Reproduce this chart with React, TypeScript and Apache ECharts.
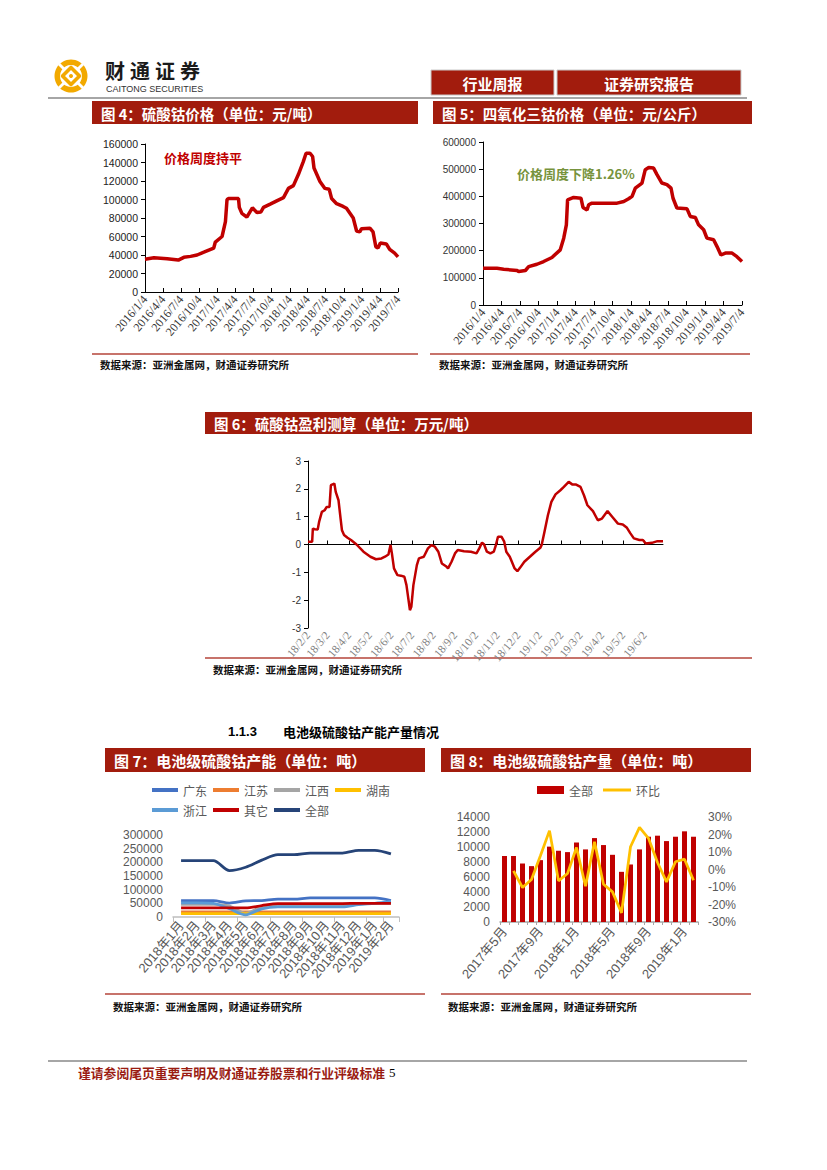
import React, { useEffect, useRef } from "react";
import * as echarts from "echarts";

// ---------------- data ----------------
const priceTickLabels = [
  "2016/1/4", "2016/4/4", "2016/7/4", "2016/10/4", "2017/1/4", "2017/4/4", "2017/7/4", "2017/10/4",
  "2018/1/4", "2018/4/4", "2018/7/4", "2018/10/4", "2019/1/4", "2019/4/4", "2019/7/4",
];

// 图4 硫酸钴价格（元/吨）
const sulfateDates = [
  "2016-01-04", "2016-02-18", "2016-04-25", "2016-06-20", "2016-07-18", "2016-08-21", "2016-09-23", "2016-10-27", "2016-12-16", "2016-12-24",
  "2017-01-27", "2017-02-13", "2017-02-21", "2017-03-01", "2017-04-20", "2017-04-24", "2017-05-07", "2017-06-01", "2017-06-29", "2017-07-22", "2017-08-11", "2017-08-24", "2017-09-27", "2017-10-30", "2017-12-03", "2017-12-28",
  "2018-01-22", "2018-02-16", "2018-03-13", "2018-03-27", "2018-04-16", "2018-04-29", "2018-05-06", "2018-06-05", "2018-06-30", "2018-07-22", "2018-08-03", "2018-08-28", "2018-09-30", "2018-10-17", "2018-11-20", "2018-12-07", "2018-12-23",
  "2019-01-01", "2019-02-12", "2019-02-28", "2019-03-14", "2019-03-25", "2019-04-06", "2019-05-06", "2019-05-23", "2019-06-17", "2019-07-04",
];
const sulfatePrice = [
  35500, 37000, 36000, 34500, 37500, 38500, 40000, 43000, 47500, 54000,
  60000, 76000, 100000, 101000, 101000, 91500, 85000, 81000, 91000, 86000, 86500, 91500, 95000, 98500, 102000, 112000,
  115000, 127000, 141000, 150000, 150000, 146500, 134000, 119500, 112000, 111000, 101000, 95500, 92500, 90500, 80000, 66000, 65000,
  68500, 69000, 65000, 49000, 47500, 53000, 52000, 46000, 42000, 38000,
];

// 图5 四氧化三钴价格
const oxideDates = [
  "2016-01-04", "2016-03-13", "2016-04-15", "2016-06-20", "2016-06-28", "2016-07-31", "2016-08-16", "2016-09-26", "2016-10-29", "2016-12-09",
  "2017-01-19", "2017-02-05", "2017-02-18", "2017-02-24", "2017-03-26", "2017-05-01", "2017-05-11", "2017-05-31", "2017-06-08", "2017-06-24", "2017-07-19", "2017-10-26", "2017-11-28", "2017-12-22",
  "2018-01-08", "2018-01-24", "2018-02-26", "2018-03-14", "2018-03-31", "2018-04-24", "2018-05-11", "2018-06-04", "2018-06-29", "2018-07-19", "2018-07-29", "2018-08-17", "2018-10-06", "2018-10-22", "2018-11-16", "2018-12-02", "2018-12-27",
  "2019-01-12", "2019-02-14", "2019-03-03", "2019-03-22", "2019-04-13", "2019-05-16", "2019-06-09", "2019-07-04",
];
const oxidePrice = [
  135000, 135000, 131500, 127000, 123000, 127000, 141000, 150000, 160000, 175000,
  203000, 246000, 295000, 387000, 396000, 393000, 359000, 350000, 369000, 375000, 375000, 375000, 381000, 391000,
  400000, 430000, 449000, 498000, 506000, 504000, 480000, 449000, 443000, 430000, 393000, 357000, 354000, 326000, 322000, 295000, 277000,
  246000, 240000, 215000, 184000, 191000, 191000, 178000, 160000,
];

// 图6 硫酸钴盈利测算（万元/吨）
const profitTickLabels = [
  "18/2/2", "18/3/2", "18/4/2", "18/5/2", "18/6/2", "18/7/2", "18/8/2", "18/9/2", "18/10/2",
  "18/11/2", "18/12/2", "19/1/2", "19/2/2", "19/3/2", "19/4/2", "19/5/2", "19/6/2",
];
const profitDates = [
  "2018-02-02", "2018-02-08", "2018-02-09", "2018-02-12", "2018-02-16", "2018-02-18", "2018-02-22", "2018-02-26",
  "2018-03-01", "2018-03-05", "2018-03-07", "2018-03-12", "2018-03-14", "2018-03-18", "2018-03-21", "2018-03-23", "2018-03-26", "2018-03-31",
  "2018-04-05", "2018-04-13", "2018-04-23",
  "2018-05-03", "2018-05-11", "2018-05-19", "2018-05-24", "2018-05-29",
  "2018-06-01", "2018-06-03", "2018-06-06", "2018-06-11", "2018-06-16", "2018-06-21", "2018-06-24", "2018-06-29",
  "2018-07-01", "2018-07-04", "2018-07-09", "2018-07-12", "2018-07-19", "2018-07-25", "2018-07-30",
  "2018-08-04", "2018-08-09", "2018-08-14", "2018-08-20", "2018-08-23", "2018-08-28",
  "2018-09-02", "2018-09-06", "2018-09-15", "2018-09-25",
  "2018-10-03", "2018-10-07", "2018-10-11", "2018-10-14", "2018-10-18", "2018-10-23", "2018-10-28", "2018-10-31",
  "2018-11-03", "2018-11-08", "2018-11-12", "2018-11-15", "2018-11-20", "2018-11-23", "2018-11-27",
  "2018-12-01", "2018-12-05", "2018-12-11", "2018-12-19", "2018-12-27",
  "2019-01-03", "2019-01-05", "2019-01-09", "2019-01-14", "2019-01-19", "2019-01-25",
  "2019-02-01", "2019-02-06", "2019-02-13", "2019-02-18", "2019-02-23",
  "2019-03-02", "2019-03-07", "2019-03-12", "2019-03-20", "2019-03-27",
  "2019-04-02", "2019-04-10", "2019-04-17", "2019-04-25",
  "2019-05-02", "2019-05-08", "2019-05-13", "2019-05-18", "2019-05-26", "2019-05-31",
  "2019-06-04", "2019-06-13", "2019-06-21", "2019-06-29",
];
const profitValues = [
  0.1, 0.1, 0.57, 0.55, 0.54, 0.81, 1.17, 1.23,
  1.35, 1.35, 2.13, 2.19, 1.89, 1.59, 0.93, 0.51, 0.34, 0.24,
  0.16, 0, -0.26,
  -0.44, -0.53, -0.5, -0.44, -0.36,
  -0.02, -0.32, -0.86, -1.1, -1.12, -1.16, -1.46, -2.36,
  -2.24, -1.46, -0.74, -0.5, -0.44, -0.14, -0.02,
  -0.08, -0.26, -0.68, -0.78, -0.86, -0.62,
  -0.32, -0.2, -0.24, -0.26,
  -0.32, -0.14, 0.07, 0, -0.26, -0.32, -0.26, -0.02,
  0.28, 0.28, 0.1, -0.26, -0.44, -0.62, -0.86,
  -0.96, -0.83, -0.62, -0.44, -0.26,
  -0.12, -0.02, 0.45, 1.05, 1.53, 1.8,
  1.95, 2.07, 2.25, 2.16, 2.16,
  2.07, 1.77, 1.41, 1.2, 0.87,
  0.93, 1.2, 0.99, 0.75,
  0.72, 0.6, 0.4, 0.22, 0.16, 0.16,
  0.04, 0.06, 0.12, 0.12,
];

// 图7 电池级硫酸钴产能（吨）
const capacityMonths = [
  "2018年1月", "2018年2月", "2018年3月", "2018年4月", "2018年5月", "2018年6月", "2018年7月",
  "2018年8月", "2018年9月", "2018年10月", "2018年11月", "2018年12月", "2019年1月", "2019年2月",
];
const capGuangdong = [60000, 60000, 60000, 51000, 59000, 60000, 65000, 65000, 70000, 70000, 70000, 70000, 70000, 60000];
const capJiangsu = [19000, 19000, 19000, 19000, 19000, 19000, 19000, 19000, 19000, 19000, 19000, 19000, 19000, 19000];
const capJiangxi = [46000, 46000, 46000, 40000, 14000, 38000, 45000, 45000, 45000, 45000, 45000, 48000, 50000, 50000];
const capHunan = [12000, 12000, 12000, 12000, 12000, 12000, 12000, 12000, 12000, 12000, 12000, 12000, 12000, 12000];
const capZhejiang = [52000, 52000, 50000, 30000, 8000, 30000, 37000, 37000, 37000, 37000, 37000, 45000, 50000, 57000];
const capOther = [33000, 33000, 33000, 33000, 33000, 42000, 49000, 49000, 49000, 49000, 49000, 50000, 50000, 50000];
const capTotal = [206000, 206000, 206000, 170000, 182000, 208000, 228000, 228000, 234000, 234000, 234000, 244000, 244000, 231000];

// 图8 电池级硫酸钴产量（吨）
const outputMonths = [
  "2017年5月", "2017年6月", "2017年7月", "2017年8月", "2017年9月", "2017年10月", "2017年11月", "2017年12月",
  "2018年1月", "2018年2月", "2018年3月", "2018年4月", "2018年5月", "2018年6月", "2018年7月", "2018年8月",
  "2018年9月", "2018年10月", "2018年11月", "2018年12月", "2019年1月", "2019年2月",
];
const outputTotal = [8800, 8800, 7800, 7450, 8250, 10050, 9500, 9320, 10600, 9680, 11190, 10260, 8960, 6690, 7670, 9680, 11370, 11510, 10790, 11370, 12090, 11370];
const outputMoM = [null, -0.8, -10.3, -5.7, 8, 22.2, -6.5, -2.3, 12.6, -9.6, 15.9, -8.4, -12.8, -24.8, 13, 24.1, 17.8, 4, -7.1, 4.4, 5.9, -6.1];

// ---------------- styles ----------------
const TITLE_RED = "#a21c0d";
const LINE_RED = "#c00000";
const SRC_LINE = "#b5443a";
const GOLD = "#f2a900";
const CJK = '"Noto Sans CJK SC", sans-serif';
const SANS = '"Liberation Sans", Arial, sans-serif';
const SERIF = '"Liberation Serif", "Times New Roman", serif';
const MIXED = '"Liberation Sans", "Noto Sans CJK SC", sans-serif';
const GREY_TXT = "#595959";
const plain = (v: number) => String(v);

function ts(s: string): number {
  const p = s.split(/[-/]/).map(Number);
  let y = p[0];
  if (y < 100) y += 2000;
  return new Date(y, p[1] - 1, p[2]).getTime();
}
const fmtFull = (v: number) => {
  const d = new Date(v);
  return `${d.getFullYear()}/${d.getMonth() + 1}/${d.getDate()}`;
};
const fmtShort = (v: number) => {
  const d = new Date(v);
  return `${String(d.getFullYear()).slice(2)}/${d.getMonth() + 1}/${d.getDate()}`;
};

function txt(x: number, y: number, text: string, o: any = {}) {
  const align = o.align || "left";
  return {
    type: "text",
    x,
    y,
    style: {
      text,
      fill: o.fill || "#000",
      fontSize: o.fontSize || 12,
      fontWeight: o.fontWeight || "normal",
      fontFamily: o.fontFamily || CJK,
      align,
      textAlign: align,
      verticalAlign: "middle",
      textVerticalAlign: "middle",
    },
  };
}
function titleBar(x: number, y: number, w: number, h: number, label: string, fs: number) {
  return [
    { type: "rect", shape: { x, y, width: w, height: h }, style: { fill: TITLE_RED } },
    txt(x + 9, y + h / 2 + 0.5, label, { fill: "#fff", fontSize: fs, fontWeight: "bold" }),
  ];
}
function source(x1: number, x2: number, yLine: number, tx: number, ty: number) {
  return [
    { type: "line", shape: { x1, y1: yLine, x2, y2: yLine }, style: { stroke: SRC_LINE, lineWidth: 1.5 } },
    txt(tx, ty, "数据来源：亚洲金属网，财通证券研究所", { fontSize: 10.5, fontWeight: "bold", fill: "#111" }),
  ];
}

function buildOption(): any {
  const priceTicks = priceTickLabels.map(ts);
  const profitTicks = profitTickLabels.map(ts);
  const cx = 71, cy = 76;
  const d45 = 17 * Math.SQRT1_2;

  const graphics: any[] = [
    // logo
    { type: "ring", shape: { cx, cy, r: 16.5, r0: 11 }, style: { fill: GOLD } },
    { type: "line", shape: { x1: cx - d45, y1: cy - d45, x2: cx + d45, y2: cy + d45 }, style: { stroke: "#fff", lineWidth: 2.8 } },
    { type: "line", shape: { x1: cx - d45, y1: cy + d45, x2: cx + d45, y2: cy - d45 }, style: { stroke: "#fff", lineWidth: 2.8 } },
    { type: "polygon", shape: { points: [[cx, cy - 8.5], [cx + 8.5, cy], [cx, cy + 8.5], [cx - 8.5, cy]] }, style: { fill: "#fff", stroke: GOLD, lineWidth: 3.6, lineJoin: "round" } },
    { type: "circle", shape: { cx, cy, r: 2 }, style: { fill: GOLD } },
    ...["财", "通", "证", "券"].map((c, i) => txt(105 + i * 25, 70, c, { fontSize: 20, fontWeight: "bold", fill: "#1a1a1a" })),
    txt(106, 88.5, "CAITONG SECURITIES", { fontSize: 9, fontFamily: SANS, fill: "#333" }),
    // header boxes
    { type: "rect", shape: { x: 431, y: 70, width: 123, height: 25 }, style: { fill: TITLE_RED, stroke: "#c9c9c9", lineWidth: 1 } },
    txt(492.5, 83, "行业周报", { fontSize: 15, fontWeight: "bold", fill: "#fff", align: "center" }),
    { type: "rect", shape: { x: 557, y: 70, width: 184, height: 25 }, style: { fill: TITLE_RED, stroke: "#c9c9c9", lineWidth: 1 } },
    txt(649, 83, "证券研究报告", { fontSize: 15, fontWeight: "bold", fill: "#fff", align: "center" }),
    { type: "line", shape: { x1: 48, y1: 98, x2: 747, y2: 98 }, style: { stroke: "#a6a6a6", lineWidth: 2 } },
    // title bars
    ...titleBar(92, 101, 326, 23, "图 4：硫酸钴价格（单位：元/吨）", 14.5),
    ...titleBar(433, 101, 319, 23, "图 5：四氧化三钴价格（单位：元/公斤）", 14.5),
    ...titleBar(205, 412, 547, 22, "图 6：硫酸钴盈利测算（单位：万元/吨）", 14.5),
    ...titleBar(105, 748, 320, 24, "图 7：电池级硫酸钴产能（单位：吨）", 15),
    ...titleBar(441, 748, 310, 24, "图 8：电池级硫酸钴产量（单位：吨）", 15),
    // annotations
    txt(164, 157, "价格周度持平", { fontSize: 13, fontWeight: "bold", fill: LINE_RED }),
    txt(517, 173, "价格周度下降1.26%", { fontSize: 13, fontWeight: "bold", fill: "#77933c" }),
    // sources
    ...source(92, 418, 354, 100, 364),
    ...source(430, 750, 354, 439, 364),
    ...source(205, 752, 658, 213, 669),
    ...source(105, 425, 994, 113, 1006),
    ...source(441, 751, 994, 448, 1006),
    // section heading
    txt(228, 731, "1.1.3", { fontSize: 13, fontWeight: "bold", fontFamily: SANS }),
    txt(283, 731, "电池级硫酸钴产能产量情况", { fontSize: 13, fontWeight: "bold" }),
    // footer
    { type: "line", shape: { x1: 48, y1: 1061, x2: 747, y2: 1061 }, style: { stroke: "#a6a6a6", lineWidth: 2 } },
    txt(78, 1072, "谨请参阅尾页重要声明及财通证券股票和行业评级标准", { fontSize: 12.8, fontWeight: "bold", fill: "#9a1c12" }),
    txt(389, 1072, "5", { fontSize: 13, fontFamily: SERIF, fill: "#000" }),
  ];

  // date axes are drawn as value axes on timestamps, ticks placed on the original tick dates
  const dateAxisBase = (gridIndex: number, ticks: number[], fmt: (v: number) => string, color: string, fs: number) => ({
    type: "value",
    gridIndex,
    min: ticks[0],
    max: ticks[ticks.length - 1],
    axisLine: { show: true, onZero: true, lineStyle: { color: "#000", width: 1 } },
    axisTick: { show: true, inside: true, length: 4, customValues: ticks, lineStyle: { color: "#000" } },
    axisLabel: { customValues: ticks, rotate: 50, margin: 5, formatter: fmt, fontSize: fs, fontFamily: SERIF, color },
    splitLine: { show: false },
  });

  const valueAxisBase = (gridIndex: number, min: number, max: number, interval: number, fs: number, color: string) => ({
    type: "value",
    gridIndex,
    min,
    max,
    interval,
    axisLine: { show: true, lineStyle: { color: "#000", width: 1 } },
    axisTick: { show: true, length: 4, lineStyle: { color: "#000" } },
    axisLabel: { fontSize: fs, fontFamily: SANS, color, margin: 7, formatter: plain },
    splitLine: { show: false },
  });

  const lineSeries = (name: string, data: number[], color: string) => ({
    name,
    type: "line",
    xAxisIndex: 3,
    yAxisIndex: 3,
    data,
    symbol: "none",
    smooth: 0.3,
    lineStyle: { color, width: 2.75 },
    itemStyle: { color },
  });

  const legendText = { fontSize: 12, fontFamily: CJK, color: GREY_TXT };

  return {
    animation: false,
    backgroundColor: "#fff",
    graphic: { elements: graphics },
    legend: [
      { data: ["广东", "江苏", "江西", "湖南"], left: 152, top: 784, padding: 0, icon: "rect", itemWidth: 26, itemHeight: 4, itemGap: 6, textStyle: legendText, selectedMode: false },
      { data: ["浙江", "其它", "全部"], left: 152, top: 804, padding: 0, icon: "rect", itemWidth: 26, itemHeight: 4, itemGap: 6, textStyle: legendText, selectedMode: false },
      { data: [{ name: "全部", icon: "rect", itemStyle: { color: LINE_RED } }], left: 537, top: 784, padding: 0, icon: "rect", itemWidth: 27, itemHeight: 8, textStyle: legendText, selectedMode: false },
      { data: [{ name: "环比", icon: "rect" }], left: 603, top: 784, padding: 0, icon: "rect", itemWidth: 28, itemHeight: 3, textStyle: legendText, selectedMode: false },
    ],
    grid: [
      { left: 145, top: 144, width: 253, height: 148 },
      { left: 483, top: 142, width: 259, height: 163 },
      { left: 308, top: 461, width: 355, height: 167 },
      { left: 173, top: 835, width: 226, height: 82 },
      { left: 500, top: 817, width: 198, height: 105 },
    ],
    xAxis: [
      dateAxisBase(0, priceTicks, fmtFull, "#333", 12),
      dateAxisBase(1, priceTicks, fmtFull, "#333", 12),
      { ...dateAxisBase(2, profitTicks, fmtShort, "#7f7f7f", 11.5), max: ts(profitDates[profitDates.length - 1]) },
      {
        type: "category",
        gridIndex: 3,
        data: capacityMonths,
        boundaryGap: true,
        axisLine: { show: true, lineStyle: { color: "#bfbfbf", width: 1.5 } },
        axisTick: { show: true, interval: 1, length: 5, lineStyle: { color: "#bfbfbf" } },
        axisLabel: { interval: 0, rotate: 50, margin: 6, fontSize: 13, fontFamily: MIXED, color: GREY_TXT },
        splitLine: { show: false },
      },
      {
        type: "category",
        gridIndex: 4,
        data: outputMonths,
        boundaryGap: true,
        axisLine: { show: true, lineStyle: { color: "#a6a6a6", width: 1.5 } },
        axisTick: { show: true, interval: 0, length: 3, lineStyle: { color: "#a6a6a6" } },
        axisLabel: { interval: 3, rotate: 50, margin: 7, fontSize: 13, fontFamily: MIXED, color: GREY_TXT },
        splitLine: { show: false },
      },
    ],
    yAxis: [
      valueAxisBase(0, 0, 160000, 20000, 10.5, "#222"),
      valueAxisBase(1, 0, 600000, 100000, 10, "#333"),
      valueAxisBase(2, -3, 3, 1, 10, "#333"),
      {
        type: "value",
        gridIndex: 3,
        min: 0,
        max: 300000,
        interval: 50000,
        axisLine: { show: false },
        axisTick: { show: false },
        axisLabel: { fontSize: 12, fontFamily: SANS, color: GREY_TXT, margin: 10, formatter: plain },
        splitLine: { show: false },
      },
      {
        type: "value",
        gridIndex: 4,
        min: 0,
        max: 14000,
        interval: 2000,
        axisLine: { show: false },
        axisTick: { show: false },
        axisLabel: { fontSize: 12, fontFamily: SANS, color: GREY_TXT, margin: 10, formatter: plain },
        splitLine: { show: false },
      },
      {
        type: "value",
        gridIndex: 4,
        position: "right",
        min: -30,
        max: 30,
        interval: 10,
        axisLine: { show: false },
        axisTick: { show: false },
        axisLabel: { fontSize: 12, fontFamily: SANS, color: GREY_TXT, margin: 10, formatter: (v: number) => `${Math.round(v)}%` },
        splitLine: { show: false },
      },
    ],
    series: [
      {
        name: "硫酸钴价格",
        type: "line",
        xAxisIndex: 0,
        yAxisIndex: 0,
        data: sulfateDates.map((d, i) => [ts(d), sulfatePrice[i]]),
        symbol: "none",
        lineStyle: { color: LINE_RED, width: 3.5 },
        itemStyle: { color: LINE_RED },
      },
      {
        name: "四氧化三钴价格",
        type: "line",
        xAxisIndex: 1,
        yAxisIndex: 1,
        data: oxideDates.map((d, i) => [ts(d), oxidePrice[i]]),
        symbol: "none",
        lineStyle: { color: LINE_RED, width: 3.5 },
        itemStyle: { color: LINE_RED },
      },
      {
        name: "硫酸钴盈利",
        type: "line",
        xAxisIndex: 2,
        yAxisIndex: 2,
        data: profitDates.map((d, i) => [ts(d), profitValues[i]]),
        symbol: "none",
        lineStyle: { color: LINE_RED, width: 2.5 },
        itemStyle: { color: LINE_RED },
      },
      lineSeries("广东", capGuangdong, "#4472c4"),
      lineSeries("江苏", capJiangsu, "#ed7d31"),
      lineSeries("江西", capJiangxi, "#a5a5a5"),
      lineSeries("湖南", capHunan, "#ffc000"),
      lineSeries("浙江", capZhejiang, "#5b9bd5"),
      lineSeries("其它", capOther, "#c00000"),
      lineSeries("全部", capTotal, "#264478"),
      {
        name: "全部",
        type: "bar",
        xAxisIndex: 4,
        yAxisIndex: 4,
        data: outputTotal,
        barWidth: "55%",
        itemStyle: { color: LINE_RED },
      },
      {
        name: "环比",
        type: "line",
        xAxisIndex: 4,
        yAxisIndex: 5,
        data: outputMoM,
        symbol: "none",
        lineStyle: { color: "#ffc000", width: 2.75 },
        itemStyle: { color: "#ffc000" },
      },
    ],
  };
}

export default function App() {
  const ref = useRef<HTMLDivElement>(null);
  useEffect(() => {
    if (!ref.current) return;
    const chart = echarts.init(ref.current, undefined, { renderer: "svg" });
    chart.setOption(buildOption());
    return () => chart.dispose();
  }, []);
  return (
    <div
      ref={ref}
      style={{ position: "absolute", left: 0, top: 0, width: 827, height: 1170, background: "#fff" }}
    />
  );
}
